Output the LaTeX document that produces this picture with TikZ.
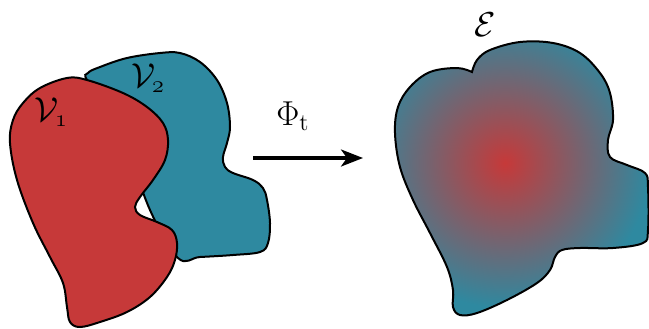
\documentclass[tikz,border=0pt]{standalone}
\usepackage{tikz}
\usetikzlibrary{arrows.meta}
\definecolor{vred}{RGB}{198,57,57}
\definecolor{vblue}{RGB}{46,137,160}
\pgfdeclareradialshading{glow}{\pgfpointorigin}{color(0bp)=(vred); color(14.5bp)=(vblue); color(50bp)=(vblue)}
\def\evolved{plot[smooth,tension=.6] coordinates {(472,72) (457,68) (430,72) (410,87) (398,107) (395,133) (400,167) (413,200) (430,233) (447,267) (453,290) (453,307) (460,315) (477,313) (507,300) (537,283) (550,270) (555,257) (562,250) (580,248) (613,248) (643,243) (648,230) (648,187) (645,173) (627,165) (610,157) (608,140) (613,120) (610,93) (600,73) (580,53) (553,43) (520,42) (490,50) (477,60) (472,72)} -- cycle}
\begin{document}
\begin{tikzpicture}[x=.5pt,y=-.5pt,
blob/.style={draw=black,line width=1pt},
lbl/.style={inner sep=0pt,font=\fontsize{18}{20}\selectfont},
arr/.style={-{Stealth[length=11pt,width=8.5pt,inset=3pt]},line width=1.6pt}]
\useasboundingbox (0,0) rectangle (649,328);
% second volume, behind
\draw[blob,fill=vblue] plot[smooth cycle,tension=.6] coordinates {(88,73) (100,67) (127,58) (160,53) (180,53) (200,62) (217,80) (227,103) (230,127) (227,143) (223,157) (225,167) (233,173) (253,180) (263,188) (267,200) (270,223) (268,243) (260,252) (233,255) (200,257) (178,258) (150,210) (120,130) (88,82)};
% first volume, in front
\draw[blob,fill=vred] plot[smooth cycle,tension=.6] coordinates {(67,78) (87,80) (123,93) (147,107) (163,123) (168,140) (165,160) (153,180) (140,197) (135,207) (140,215) (157,222) (172,230) (177,243) (175,260) (167,277) (150,297) (127,312) (100,322) (80,327) (70,322) (67,307) (63,283) (50,257) (33,223) (17,180) (10,143) (13,120) (23,103) (40,88)};
\node[lbl](v1) at (51,112){$\mathcal{V}_{\mathnormal{1}}$};
\node[lbl](v2) at (148,78){$\mathcal{V}_{\mathnormal{2}}$};
% map
\coordinate (from) at (253,158);
\coordinate (to) at (363,158);
\draw[arr](from)--(to);
\node[lbl](phi) at (293,116){$\Phi_{\mathrm{t}}$};
% evolved set
\begin{scope}
\clip \evolved;
\shade[shading=glow] (505,163) circle (250);
\end{scope}
\draw[blob] \evolved;
\node[lbl](e) at (485,25){$\mathcal{E}$};
\end{tikzpicture}
\end{document}
